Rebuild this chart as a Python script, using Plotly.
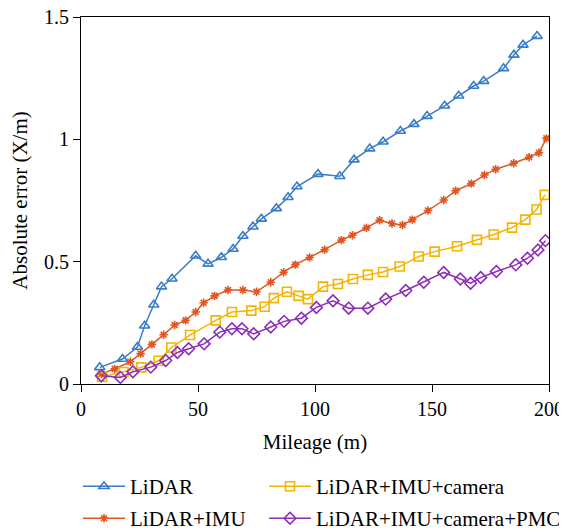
import plotly.graph_objects as go

# ---- data ----
lidar_x = [8.0, 17.7, 24.1, 27.2, 31.1, 34.4, 38.9, 49.0, 54.3, 60.0, 65.0, 69.2, 73.5, 77.1,
           83.5, 88.5, 92.3, 101.3, 110.6, 116.7, 123.4, 129.1, 136.5, 142.3, 147.9, 155.4,
           161.4, 167.8, 172.1, 180.6, 185.0, 188.9, 194.9]
lidar_y = [0.068, 0.102, 0.151, 0.238, 0.324, 0.398, 0.430, 0.524, 0.491, 0.518, 0.552, 0.605,
           0.643, 0.675, 0.718, 0.763, 0.807, 0.858, 0.849, 0.917, 0.962, 0.990, 1.034, 1.062,
           1.095, 1.137, 1.178, 1.218, 1.238, 1.290, 1.345, 1.386, 1.422]

imu_x = [8.7, 14.4, 21.1, 25.5, 30.3, 35.3, 40.0, 44.7, 49.0, 52.4, 57.1, 62.8, 69.2, 75.0,
         81.1, 86.6, 91.6, 97.7, 104.1, 111.3, 116.0, 122.0, 127.6, 132.9, 137.4, 141.6,
         148.3, 155.0, 160.1, 166.8, 172.4, 177.2, 184.9, 191.5, 195.7, 198.9]
imu_y = [0.041, 0.062, 0.091, 0.124, 0.162, 0.201, 0.241, 0.260, 0.294, 0.332, 0.360, 0.384,
         0.384, 0.377, 0.416, 0.457, 0.488, 0.517, 0.549, 0.588, 0.608, 0.638, 0.669, 0.656,
         0.650, 0.672, 0.709, 0.752, 0.790, 0.819, 0.854, 0.878, 0.902, 0.927, 0.945, 1.004]

cam_x = [9.0, 18.2, 25.8, 33.2, 38.6, 46.6, 57.6, 64.5, 72.8, 78.5, 82.4, 88.0, 93.0, 97.0,
         103.4, 109.8, 116.2, 122.6, 129.1, 136.2, 144.3, 151.1, 160.7, 169.2, 176.4, 184.2,
         189.9, 194.7, 198.2]
cam_y = [0.029, 0.049, 0.068, 0.095, 0.149, 0.200, 0.260, 0.294, 0.300, 0.316, 0.351, 0.377,
         0.360, 0.347, 0.398, 0.409, 0.429, 0.446, 0.458, 0.480, 0.521, 0.541, 0.563, 0.589,
         0.611, 0.639, 0.672, 0.713, 0.773]

pmc_x = [8.7, 16.8, 22.2, 29.8, 36.2, 41.2, 46.0, 52.6, 59.3, 64.5, 68.8, 73.8, 81.1, 86.8,
         94.2, 100.6, 107.7, 114.4, 122.6, 130.2, 138.8, 146.5, 155.0, 162.1, 166.5, 170.8,
         177.5, 185.8, 190.8, 195.3, 198.5]
pmc_y = [0.034, 0.027, 0.050, 0.069, 0.096, 0.129, 0.144, 0.164, 0.212, 0.226, 0.226, 0.205,
         0.233, 0.256, 0.269, 0.313, 0.340, 0.310, 0.310, 0.347, 0.382, 0.416, 0.456, 0.429,
         0.412, 0.435, 0.460, 0.487, 0.514, 0.548, 0.586]

x_ticks = [0, 50, 100, 150, 200]
y_ticks = [0, 0.5, 1, 1.5]
y_tick_text = ["0", "0.5", "1", "1.5"]

FONT = "Liberation Serif"
# The page body adds ~8px offset; figure is made a bit larger than the visible
# area so the legends fit without pushing the margins.
W, H = 580, 540
ML, MT = 73, 9
PW, PH = 468, 367.3
MR = W - ML - PW
MB = H - MT - PH

series = [
    ("LiDAR", lidar_x, lidar_y, "#3a7cc6", "triangle-up-open", 9, "legend"),
    ("LiDAR+IMU", imu_x, imu_y, "#e0561f", "asterisk-open", 7, "legend2"),
    ("LiDAR+IMU+camera", cam_x, cam_y, "#f4b400", "square-open", 9, "legend3"),
    ("LiDAR+IMU+camera+PMC", pmc_x, pmc_y, "#8c2fb4", "diamond-open", 9, "legend4"),
]

fig = go.Figure()
for name, xs, ys, col, sym, sz, lg in series:
    fig.add_trace(go.Scatter(
        x=xs, y=ys, name=name, mode="lines+markers", legend=lg, showlegend=True,
        line=dict(color=col, width=1.5),
        marker=dict(symbol=sym, size=sz, color=col, line=dict(color=col, width=1.6)),
    ))

axis_common = dict(
    showline=True, linecolor="black", linewidth=1, mirror=True,
    ticks="outside", ticklen=7, tickwidth=1, tickcolor="black",
    showgrid=False, zeroline=False, automargin=False,
    ticklabeloverflow="allow",
    tickfont=dict(family=FONT, size=20, color="black"),
)

fig.update_xaxes(range=[0, 200], tickvals=x_ticks, **axis_common,
                 title=dict(text="Mileage (m)", font=dict(family=FONT, size=21, color="black")))
fig.update_yaxes(range=[0, 1.5], tickvals=y_ticks, ticktext=y_tick_text, **axis_common,
                 title=dict(text="Absolute error (X/m)", font=dict(family=FONT, size=21, color="black")))

def px_to_paper_x(px):
    return (px - ML) / PW

def px_to_paper_y(py):
    return (MT + PH - py) / PH

def leg(xpx, ypx):
    return dict(x=px_to_paper_x(xpx), y=px_to_paper_y(ypx),
                xanchor="left", yanchor="middle", orientation="v",
                font=dict(family=FONT, size=21, color="black"),
                bgcolor="rgba(0,0,0,0)", itemwidth=42)

fig.update_layout(
    width=W, height=H, showlegend=True,
    margin=dict(l=ML, r=MR, t=MT, b=MB),
    paper_bgcolor="white", plot_bgcolor="white",
    legend=leg(70, 479),
    legend2=leg(70, 511),
    legend3=leg(256, 479),
    legend4=leg(256, 511),
)

fig.write_html("out.html")
